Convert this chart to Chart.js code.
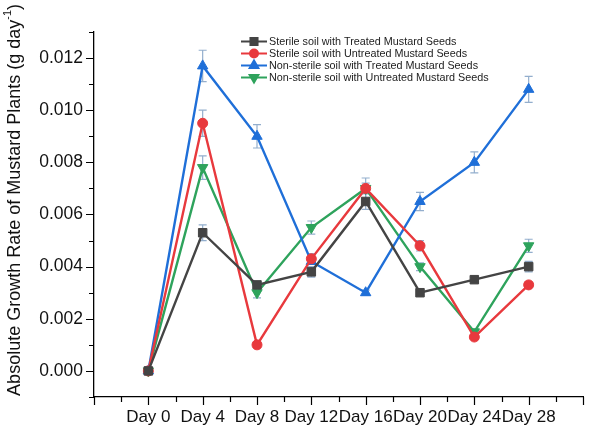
<!DOCTYPE html>
<html>
<head>
<meta charset="utf-8">
<script src="https://cdn.jsdelivr.net/npm/chart.js@4"></script>
<style>
html, body { margin: 0; padding: 0; background: #fff; }
canvas { display: block; }
</style>
</head>
<body>
<canvas id="c" width="590" height="428"></canvas>
<script>
// Sampling days and their axis labels
const categories = ['Day 0', 'Day 4', 'Day 8', 'Day 12', 'Day 16', 'Day 20', 'Day 24', 'Day 28'];
const days = [0, 4, 8, 12, 16, 20, 24, 28];

// Absolute growth rate (g day^-1) and standard error for each treatment
const sterileTreated        = [0, 0.0053, 0.0033, 0.0038, 0.0065, 0.0030, 0.0035, 0.0040];
const sterileTreatedErr     = [0, 0.0003, 0.0001, 0.0002, 0.0003, 0.0001, 0.0001, 0.0002];
const sterileUntreated      = [0, 0.0095, 0.0010, 0.0043, 0.0070, 0.0048, 0.0013, 0.0033];
const sterileUntreatedErr   = [0, 0.0005, 0.0001, 0.0002, 0.0002, 0.0002, 0.0001, 0.0001];
const nonSterileTreated     = [0, 0.0117, 0.0090, 0.0042, 0.0030, 0.0065, 0.0080, 0.0108];
const nonSterileTreatedErr  = [0, 0.0006, 0.00045, 0.0001, 0.0001, 0.00035, 0.0004, 0.0005];
const nonSterileUntreated   = [0, 0.0078, 0.0030, 0.0055, 0.0070, 0.0040, 0.0015, 0.0048];
const nonSterileUntreatedErr= [0, 0.00045, 0.0002, 0.00025, 0.0004, 0.00015, 0.0001, 0.00025];

const seriesLabels = [
  'Sterile soil with Treated Mustard Seeds',
  'Sterile soil with Untreated Mustard Seeds',
  'Non-sterile soil with Treated Mustard Seeds',
  'Non-sterile soil with Untreated Mustard Seeds'
];

// Y axis tick values and labels
const yTickValues = [0, 0.002, 0.004, 0.006, 0.008, 0.010, 0.012];
const yTickLabels = ['0.000', '0.002', '0.004', '0.006', '0.008', '0.010', '0.012'];
const yTitle = 'Absolute Growth Rate of Mustard Plants (g day';
const yTitleSup = '-1';
const yTitleEnd = ')';

const FONT = "'Liberation Sans', Arial, sans-serif";

function pts(vals) {
  return vals.map((v, i) => ({ x: days[i], y: v }));
}

const styles = [
  { color: '#444444', style: 'rect', radius: 6, rotation: 0 },
  { color: '#e8393d', style: 'circle', radius: 5, rotation: 0 },
  { color: '#1f6fd8', style: 'triangle', radius: 6, rotation: 0 },
  { color: '#2ea35c', style: 'triangle', radius: 6, rotation: 180 }
];
const values = [sterileTreated, sterileUntreated, nonSterileTreated, nonSterileUntreated];
const errors = [sterileTreatedErr, sterileUntreatedErr, nonSterileTreatedErr, nonSterileUntreatedErr];

const datasets = values.map((v, i) => ({
  label: seriesLabels[i],
  data: pts(v),
  errors: errors[i],
  borderColor: styles[i].color,
  backgroundColor: styles[i].color,
  borderWidth: 2.4,
  pointStyle: styles[i].style,
  pointRadius: styles[i].radius,
  pointRotation: styles[i].rotation,
  pointBorderWidth: 1,
  tension: 0,
  fill: false
}));

// Vertical error bars with caps, drawn under the lines
const errorBars = {
  id: 'errorBars',
  beforeDatasetsDraw(chart) {
    const { ctx, scales: { x, y } } = chart;
    ctx.save();
    ctx.strokeStyle = 'rgba(135,165,200,0.9)';
    ctx.lineWidth = 1.2;
    chart.data.datasets.forEach(ds => {
      ds.data.forEach((p, j) => {
        const e = ds.errors[j];
        if (!e) return;
        const px = x.getPixelForValue(p.x);
        const t = y.getPixelForValue(p.y + e);
        const b = y.getPixelForValue(p.y - e);
        ctx.beginPath();
        ctx.moveTo(px, t); ctx.lineTo(px, b);
        ctx.moveTo(px - 4, t); ctx.lineTo(px + 4, t);
        ctx.moveTo(px - 4, b); ctx.lineTo(px + 4, b);
        ctx.stroke();
      });
    });
    ctx.restore();
  }
};

// Major and minor tick marks on both axes, outside the plot
const tickMarks = {
  id: 'tickMarks',
  afterDraw(chart) {
    const { ctx, scales: { x, y } } = chart;
    ctx.save();
    ctx.strokeStyle = '#000';
    ctx.lineWidth = 1.2;
    ctx.beginPath();
    for (let v = x.min; v <= x.max + 1e-9; v += 2) {
      const px = Math.round(x.getPixelForValue(v)) + 0.5;
      const len = (v % 4 === 0) ? 8 : 5;
      ctx.moveTo(px, x.top); ctx.lineTo(px, x.top + len);
    }
    for (let k = -1; k <= 13; k++) {
      const v = k / 1000;
      const py = Math.round(y.getPixelForValue(v)) + 0.5;
      const len = (k % 2 === 0) ? 8 : 5;
      ctx.moveTo(y.right, py); ctx.lineTo(y.right - len, py);
    }
    ctx.stroke();
    ctx.restore();
  }
};

// Rotated y axis title with a superscript exponent
const yAxisTitle = {
  id: 'yAxisTitle',
  afterDraw(chart) {
    const { ctx } = chart;
    const size = 18;
    ctx.save();
    ctx.fillStyle = '#111';
    ctx.textBaseline = 'middle';
    ctx.font = `${size}px ${FONT}`;
    const w1 = ctx.measureText(yTitle).width;
    const w3 = ctx.measureText(yTitleEnd).width;
    ctx.font = `${size * 0.6}px ${FONT}`;
    const w2 = ctx.measureText(yTitleSup).width;
    const total = w1 + w2 + w3;
    ctx.translate(15, 200);
    ctx.rotate(-Math.PI / 2);
    let cx = -total / 2;
    ctx.textAlign = 'left';
    ctx.font = `${size}px ${FONT}`;
    ctx.fillText(yTitle, cx, 0);
    cx += w1;
    ctx.font = `${size * 0.6}px ${FONT}`;
    ctx.fillText(yTitleSup, cx, -size * 0.38);
    cx += w2;
    ctx.font = `${size}px ${FONT}`;
    ctx.fillText(yTitleEnd, cx, 0);
    ctx.restore();
  }
};

// Legend inside the plot: line sample with marker, then label
const insideLegend = {
  id: 'insideLegend',
  afterDraw(chart) {
    const { ctx } = chart;
    ctx.save();
    ctx.font = `10.8px ${FONT}`;
    ctx.textBaseline = 'middle';
    ctx.textAlign = 'left';
    chart.data.datasets.forEach((ds, i) => {
      const yy = 41.5 + i * 12;
      ctx.strokeStyle = ds.borderColor;
      ctx.lineWidth = 2;
      ctx.beginPath();
      ctx.moveTo(241, yy); ctx.lineTo(267, yy);
      ctx.stroke();
      ctx.fillStyle = ds.backgroundColor;
      Chart.helpers.drawPoint(ctx, {
        pointStyle: ds.pointStyle,
        radius: ds.pointRadius - 1,
        rotation: ds.pointRotation,
        borderWidth: 1
      }, 254, yy);
      ctx.fillStyle = '#222';
      ctx.fillText(ds.label, 269, yy + 0.5);
    });
    ctx.restore();
  }
};

new Chart(document.getElementById('c'), {
  type: 'line',
  data: { datasets },
  plugins: [errorBars, tickMarks, yAxisTitle, insideLegend],
  options: {
    responsive: false,
    animation: false,
    devicePixelRatio: 1,
    layout: { padding: { top: 32, right: 0, left: 0, bottom: 0 } },
    plugins: { legend: { display: false }, tooltip: { enabled: false } },
    scales: {
      x: {
        type: 'linear',
        min: -4,
        max: 32,
        afterBuildTicks: s => { s.ticks = days.map(d => ({ value: d })); },
        afterFit: s => { s.height = 31; },
        grid: { drawOnChartArea: false, tickLength: 8, tickColor: 'rgba(0,0,0,0)' },
        border: { display: true, color: '#000', width: 1.3 },
        ticks: {
          autoSkip: false,
          maxRotation: 0,
          padding: 2,
          color: '#111',
          font: { family: FONT, size: 17 },
          callback: v => categories[days.indexOf(v)] ?? ''
        }
      },
      y: {
        type: 'linear',
        min: -0.001,
        max: 0.013,
        afterBuildTicks: s => { s.ticks = yTickValues.map(v => ({ value: v })); },
        afterFit: s => { s.width = 94; },
        grid: { drawOnChartArea: false, tickLength: 8, tickColor: 'rgba(0,0,0,0)' },
        border: { display: true, color: '#000', width: 1.3 },
        ticks: {
          padding: 3,
          color: '#111',
          font: { family: FONT, size: 17.5 },
          callback: v => yTickLabels[yTickValues.indexOf(v)] ?? ''
        }
      }
    }
  }
});
</script>
</body>
</html>
